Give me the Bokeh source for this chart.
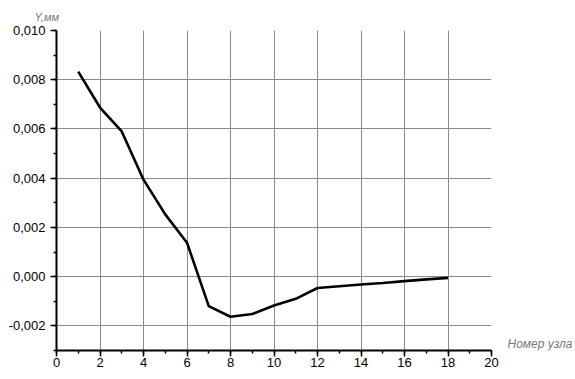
from bokeh.plotting import figure
from bokeh.layouts import row
from bokeh.models import SingleIntervalTicker, CustomJSTickFormatter, Range1d, Title
from bokeh.core.properties import value
from bokeh.embed import file_html
from bokeh.resources import INLINE

# Data: node number vs displacement Y (mm)
nodes = [1, 2, 3, 4, 5, 6, 7, 8, 9, 10, 11, 12, 13, 14, 15, 16, 17, 18]
y_mm = [0.00833, 0.00687, 0.00590, 0.00394, 0.00253, 0.00138, -0.00120, -0.00163,
        -0.00152, -0.00117, -0.00090, -0.00046, -0.00039, -0.00032, -0.00026,
        -0.00018, -0.00011, -0.00005]

x_label = "Номер узла"
y_label = "Y,мм"

p = figure(width=500, height=371, output_backend="svg", toolbar_location=None,
           x_range=Range1d(0, 20), y_range=Range1d(-0.003, 0.010),
           min_border_left=56, min_border_top=30, min_border_right=9, min_border_bottom=21)
p.outline_line_color = None
p.background_fill_color = "white"

p.line(nodes, y_mm, line_color="black", line_width=2.6, line_join="round")

p.xaxis.ticker = SingleIntervalTicker(interval=2, num_minor_ticks=2)
p.yaxis.ticker = SingleIntervalTicker(interval=0.002, num_minor_ticks=2)
p.yaxis.formatter = CustomJSTickFormatter(code="return tick.toFixed(3).replace('.', ',');")
p.xaxis.formatter = CustomJSTickFormatter(code="return tick.toFixed(0);")

for ax in (p.xaxis, p.yaxis):
    ax.axis_line_color = "black"
    ax.axis_line_width = 2
    ax.major_tick_line_color = "black"
    ax.minor_tick_line_color = "black"
    ax.major_tick_line_width = 1.5
    ax.minor_tick_line_width = 1.5
    ax.major_tick_in = 0
    ax.major_tick_out = 6
    ax.minor_tick_in = 0
    ax.minor_tick_out = 3
    ax.major_label_text_font = "Liberation Sans"
    ax.major_label_text_font_size = "13px"
    ax.major_label_text_color = "black"
p.xaxis.major_label_standoff = 1
p.yaxis.major_label_standoff = 5

p.grid.grid_line_color = "#8a8a8a"
p.grid.grid_line_width = 1

# y-axis caption above the axis
p.add_layout(Title(text=y_label, align="left", offset=-22, standoff=16,
                   text_font="Liberation Sans", text_font_style="italic",
                   text_font_size="11px", text_color="#777777"), "above")

# x-axis caption to the right of the axis end, in a narrow side canvas
cap = figure(width=72, height=371, output_backend="svg", toolbar_location=None,
             x_range=Range1d(0, 72), y_range=Range1d(0, 371),
             x_axis_type=None, y_axis_type=None, min_border=0)
cap.outline_line_color = None
cap.grid.visible = False
cap.text(x=[7], y=[0], text=[x_label], text_font=value("Liberation Sans"),
         text_font_style="italic", text_font_size="12px", text_color="#777777",
         text_align="left", text_baseline="bottom")

layout = row(p, cap, spacing=0)
open("out.html", "w").write(file_html(layout, INLINE))
